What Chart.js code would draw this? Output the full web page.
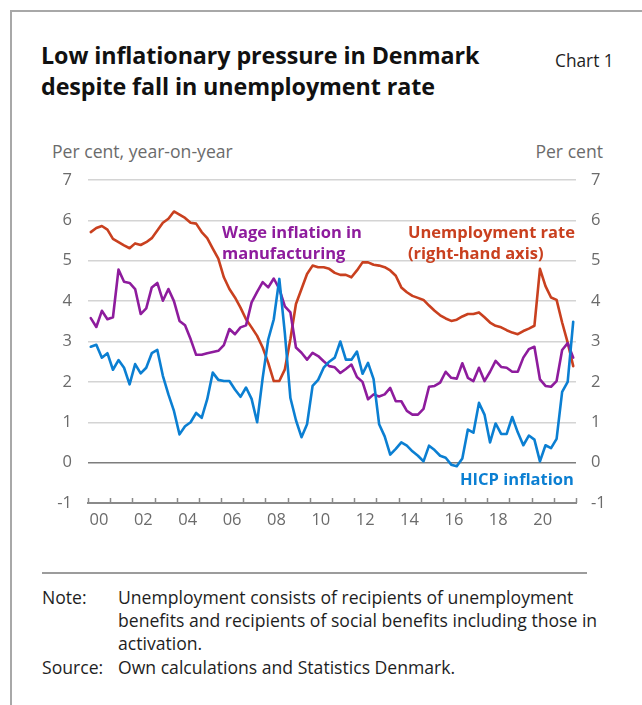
<!DOCTYPE html>
<html lang="en">
<head>
<meta charset="UTF-8">
<title>Low inflationary pressure in Denmark despite fall in unemployment rate</title>
<script src="https://cdn.jsdelivr.net/npm/chart.js@4"></script>
<style>
  html, body { margin: 0; padding: 0; background: #fff; }
  body {
    width: 642px; height: 705px; position: relative; overflow: hidden;
    font-family: "Open Sans", "Noto Sans", sans-serif; color: #1e1e1e;
  }
  .frame {
    position: absolute; left: 10px; top: 10px; width: 640px; height: 700px;
    border-left: 2px solid #a8a8a8; border-top: 2px solid #a8a8a8;
  }
  .abs { position: absolute; white-space: nowrap; }
  .title { left: 41px; top: 40px; font-size: 23.3px; font-weight: 700; line-height: 31px; color: #111; letter-spacing: -0.1px; }
  .chartno { left: 555px; top: 51px; font-size: 17.3px; line-height: 20px; }
  .unit { top: 141px; font-size: 17.6px; line-height: 20px; color: #6b6b6b; }
  .lbl { font-size: 16.5px; font-weight: 700; line-height: 21px; }
  .rule { position: absolute; left: 42px; top: 572px; width: 545px; height: 2px; background: #9c9c9c; }
  .notes { position: absolute; left: 42px; top: 586px; font-size: 17.6px; line-height: 23px; }
  .notes .k { position: absolute; left: 0; }
  .notes .v { position: absolute; left: 76px; width: 505px; white-space: normal; }
  canvas { position: absolute; left: 0; top: 130px; }
</style>
</head>
<body>
<div class="frame"></div>
<div class="abs title">Low inflationary pressure in Denmark<br>despite fall in unemployment rate</div>
<div class="abs chartno">Chart 1</div>
<div class="abs unit" style="left:52px">Per cent, year-on-year</div>
<div class="abs unit" style="right:39px">Per cent</div>

<canvas id="chart" width="642" height="420"></canvas>

<div class="abs lbl" style="left:222px; top:221px; color:#8e1c9d">Wage inflation in<br>manufacturing</div>
<div class="abs lbl" style="left:408px; top:221px; color:#c9401f">Unemployment rate<br>(right-hand axis)</div>
<div class="abs lbl" style="left:460px; top:468px; color:#0b7fd2">HICP inflation</div>

<div class="rule"></div>
<div class="notes">
  <div class="k" style="top:0">Note:</div>
  <div class="v" style="top:0">Unemployment consists of recipients of unemployment benefits and recipients of social benefits including those in activation.</div>
  <div class="k" style="top:70px">Source:</div>
  <div class="v" style="top:70px">Own calculations and Statistics Denmark.</div>
</div>

<script>
// kvartaler 2000K1 - 2021K4
const firstYear = 2000;
const lastYear = 2021;
const quarters = [];
for (let y = firstYear; y <= lastYear; y++) {
    for (let q = 1; q <= 4; q++) quarters.push(y + "Q" + q);
}

// HICP-inflation, pct. år-til-år
const hicp = [
    2.87, 2.92, 2.60, 2.71, 2.30, 2.54, 2.35, 1.94, 2.44, 2.21, 2.35, 2.71,
    2.79, 2.15, 1.69, 1.28, 0.70, 0.90, 1.00, 1.23, 1.11, 1.57, 2.23, 2.05,
    2.02, 2.02, 1.81, 1.63, 1.86, 1.58, 1.00, 2.10, 3.05, 3.55, 4.55, 3.20,
    1.60, 1.05, 0.63, 0.95, 1.90, 2.05, 2.35, 2.50, 2.60, 3.00, 2.55, 2.55,
    2.75, 2.20, 2.47, 2.07, 0.95, 0.65, 0.20, 0.34, 0.50, 0.42, 0.28, 0.17,
    0.03, 0.42, 0.31, 0.17, 0.12, -0.05, -0.09, 0.10, 0.82, 0.74, 1.48, 1.19,
    0.50, 0.97, 0.71, 0.71, 1.13, 0.75, 0.43, 0.67, 0.57, 0.03, 0.43, 0.36,
    0.59, 1.75, 2.00, 3.49
];

// Lønstigning i industrien, pct. år-til-år
const wages = [
    3.58, 3.36, 3.76, 3.55, 3.60, 4.78, 4.48, 4.45, 4.30, 3.68, 3.82, 4.34,
    4.45, 4.01, 4.30, 4.00, 3.51, 3.40, 3.06, 2.67, 2.67, 2.71, 2.74, 2.77,
    2.91, 3.31, 3.18, 3.35, 3.40, 3.97, 4.23, 4.47, 4.34, 4.56, 4.30, 3.87,
    3.72, 2.85, 2.72, 2.55, 2.72, 2.64, 2.51, 2.39, 2.36, 2.22, 2.32, 2.43,
    2.12, 2.00, 1.57, 1.69, 1.64, 1.69, 1.85, 1.52, 1.52, 1.28, 1.19, 1.19,
    1.33, 1.88, 1.90, 1.98, 2.25, 2.10, 2.08, 2.46, 2.10, 2.02, 2.35, 2.02,
    2.25, 2.52, 2.37, 2.35, 2.25, 2.25, 2.60, 2.81, 2.87, 2.06, 1.90, 1.88,
    2.02, 2.79, 2.96, 2.60
];

// Ledighed, pct. (højre akse)
const unemployment = [
    5.71, 5.81, 5.86, 5.77, 5.54, 5.46, 5.38, 5.31, 5.43, 5.39, 5.46, 5.56,
    5.75, 5.94, 6.04, 6.22, 6.14, 6.06, 5.94, 5.92, 5.71, 5.56, 5.30, 5.05,
    4.59, 4.30, 4.09, 3.84, 3.55, 3.35, 3.14, 2.85, 2.47, 2.02, 2.02, 2.31,
    3.06, 3.93, 4.30, 4.67, 4.88, 4.84, 4.84, 4.80, 4.70, 4.65, 4.65, 4.59,
    4.76, 4.96, 4.96, 4.90, 4.88, 4.84, 4.76, 4.63, 4.34, 4.22, 4.13, 4.08,
    4.03, 3.89, 3.76, 3.65, 3.57, 3.51, 3.54, 3.62, 3.68, 3.68, 3.72, 3.60,
    3.47, 3.39, 3.35, 3.28, 3.22, 3.18, 3.26, 3.32, 3.39, 4.80, 4.37, 4.09,
    4.03, 3.47, 2.97, 2.39
];

const yMin = -1;
const yMax = 7;

// kvartal -> midt i kvartalet paa en aarsakse
const toX = (label) => {
    const [y, q] = label.split("Q").map(Number);
    return y + (q - 1) / 4 + 0.125;
};
const points = (values) => values.map((v, i) => ({ x: toX(quarters[i]), y: v }));

// tick-streger peger ind i diagrammet fra x-aksen
const innerTicks = {
    id: "innerTicks",
    afterDatasetsDraw(chart) {
        const xs = chart.scales.x;
        const bottom = chart.chartArea.bottom;
        const ctx = chart.ctx;
        ctx.save();
        ctx.strokeStyle = "#8a8a8a";
        ctx.lineWidth = 1.5;
        xs.ticks.forEach((t) => {
            const px = Math.round(xs.getPixelForValue(t.value)) + 0.5;
            ctx.beginPath();
            ctx.moveTo(px, bottom);
            ctx.lineTo(px, bottom - 5);
            ctx.stroke();
        });
        ctx.restore();
    }
};

const tickFont = { family: "'Open Sans', 'Noto Sans', sans-serif", size: 16.5 };

new Chart(document.getElementById("chart"), {
    type: "line",
    data: {
        datasets: [
            { label: "HICP inflation", data: points(hicp), borderColor: "#0b7fd2", yAxisID: "y" },
            { label: "Wage inflation in manufacturing", data: points(wages), borderColor: "#8e1c9d", yAxisID: "y" },
            { label: "Unemployment rate (right-hand axis)", data: points(unemployment), borderColor: "#c9401f", yAxisID: "y1" }
        ]
    },
    options: {
        responsive: false,
        animation: false,
        devicePixelRatio: 1,
        layout: { padding: { top: 50, left: 0, right: 0, bottom: 0 } },
        elements: {
            line: { borderWidth: 2.6, tension: 0, borderJoinStyle: "round", borderCapStyle: "round" },
            point: { radius: 0 }
        },
        plugins: { legend: { display: false }, tooltip: { enabled: false } },
        scales: {
            x: {
                type: "linear",
                min: firstYear,
                max: lastYear + 1,
                afterFit: (s) => { s.height = 47; },
                afterBuildTicks: (s) => {
                    const t = [];
                    for (let y = firstYear; y <= lastYear + 1; y++) t.push({ value: y });
                    s.ticks = t;
                },
                ticks: {
                    autoSkip: false,
                    maxRotation: 0,
                    padding: 7,
                    labelOffset: 11,
                    color: "#6b6b6b",
                    font: tickFont,
                    callback: (v) => (v % 2 === 0 && v <= lastYear ? String(v % 100).padStart(2, "0") : "")
                },
                grid: { display: true, drawOnChartArea: false, drawTicks: false },
                border: { display: true, color: "#8a8a8a", width: 2 }
            },
            y: {
                position: "left",
                min: yMin,
                max: yMax,
                afterFit: (s) => { s.width = 88; },
                ticks: { stepSize: 1, padding: 16, color: "#6b6b6b", font: tickFont },
                grid: {
                    drawTicks: false,
                    lineWidth: 1.5,
                    color: (c) => (c.tick.value === 0 ? "#7d7d7d" : c.tick.value === yMin ? "rgba(0,0,0,0)" : "#d4d4d4")
                },
                border: { display: false }
            },
            y1: {
                position: "right",
                min: yMin,
                max: yMax,
                afterFit: (s) => { s.width = 66; },
                ticks: { stepSize: 1, padding: 15, color: "#6b6b6b", font: tickFont },
                grid: { drawOnChartArea: false, drawTicks: false },
                border: { display: false }
            }
        }
    },
    plugins: [innerTicks]
});
</script>
</body>
</html>
